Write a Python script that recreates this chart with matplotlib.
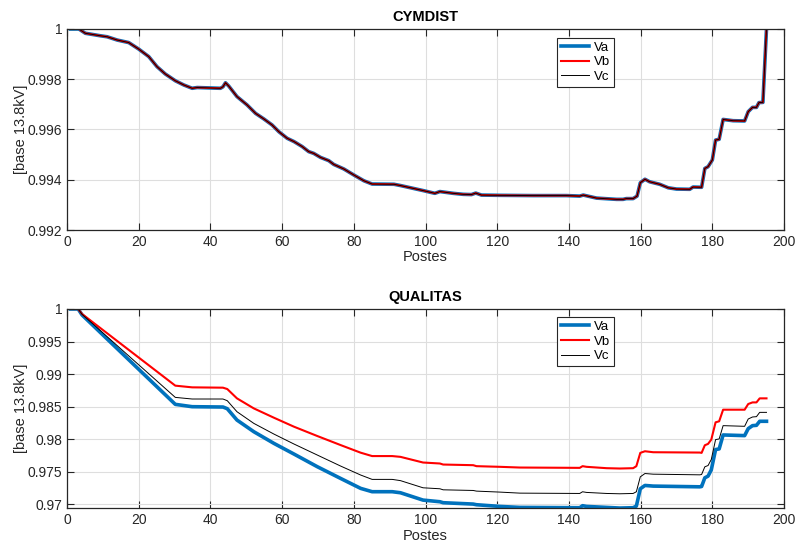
"""CYMDIST vs QUALITAS phase voltages along the feeder (p.u., base 13.8 kV)."""

import matplotlib
matplotlib.use("Agg")
import matplotlib.pyplot as plt
import matplotlib.ticker as mticker
import numpy as np

# --- CYMDIST: the three phases overlap at this scale ---
CYM_X = [1, 3.3, 5.1, 9.3, 11.2, 14, 17.2, 20, 22.8, 25.1,
         27.4, 30.2, 32.6, 34.9, 36.3, 42.8, 43.5, 44.2, 45.1, 47.4,
         50.2, 52.6, 54.9, 57.2, 59.1, 61.4, 63.3, 65.6, 67.4, 68.8,
         70.7, 73, 74.4, 77.2, 80, 82.8, 85.1, 91.2, 93, 99.3,
         102.6, 104, 107.7, 110.5, 112.8, 114, 115.6, 120.7, 130, 139.3,
         143, 144, 147.7, 153.3, 155.1, 156, 157.9, 159, 159.9, 161.2,
         162.5, 165.3, 167.7, 170, 173.7, 174.6, 177, 177.9, 178.8, 180,
         180.9, 181.9, 183, 185.8, 189, 190, 191.2, 192.3, 193, 194.1,
         195.2]
CYM_VA = [1.0, 1.0, 0.99983, 0.99973, 0.99969, 0.99956, 0.99946, 0.99920, 0.99890, 0.99850,
          0.99821, 0.99794, 0.99777, 0.99764, 0.99767, 0.99764, 0.99770, 0.99786, 0.99773, 0.99731,
          0.99698, 0.99664, 0.99642, 0.99618, 0.99591, 0.99565, 0.99552, 0.99532, 0.99512, 0.99505,
          0.99489, 0.99476, 0.99461, 0.99443, 0.99419, 0.99396, 0.99383, 0.99382, 0.99377, 0.99357,
          0.99346, 0.99353, 0.99346, 0.99342, 0.99341, 0.99347, 0.99339, 0.99338, 0.99337, 0.99337,
          0.99335, 0.99339, 0.99327, 0.99322, 0.99322, 0.99325, 0.99325, 0.99335, 0.99388, 0.99402,
          0.99392, 0.99382, 0.99368, 0.99363, 0.99362, 0.99371, 0.99370, 0.99445, 0.99452, 0.99479,
          0.99558, 0.99561, 0.99640, 0.99635, 0.99634, 0.99671, 0.99688, 0.99688, 0.99707, 0.99708,
          1.0003]
CYM_VB = list(CYM_VA)
CYM_VC = list(CYM_VA)

# --- QUALITAS ---
QUAL_X = [1, 3.1, 4.2, 30.2, 34.9, 43.5, 44.7, 47.4, 52.1, 57.7,
          63.3, 69.8, 76.3, 81.9, 85.1, 90.7, 93, 99.3, 104, 104.9,
          113.3, 114.2, 120.7, 126.3, 143, 143.8, 144.9, 150.5, 154.2, 157.9,
          158.8, 159.9, 161.2, 163.5, 176.5, 177, 177.9, 178.8, 179.7, 180.9,
          181.9, 183, 189, 190, 191.2, 192.3, 193.2, 195.1]
QUAL_VA = [1.0, 1.0, 0.99908, 0.98536, 0.98500, 0.98495, 0.98469, 0.98295, 0.98116, 0.97937,
           0.97773, 0.97579, 0.97399, 0.97246, 0.97195, 0.97195, 0.97179, 0.97066, 0.97041, 0.97026,
           0.97005, 0.96995, 0.96969, 0.96954, 0.96949, 0.96980, 0.96969, 0.96954, 0.96944, 0.96949,
           0.96974, 0.97240, 0.97291, 0.97281, 0.97270, 0.97275, 0.97408, 0.97434, 0.97530, 0.97842,
           0.97852, 0.98066, 0.98056, 0.98163, 0.98209, 0.98214, 0.98276, 0.98276]
QUAL_VB = [1.0, 1.0, 0.99923, 0.98823, 0.98797, 0.98792, 0.98771, 0.98628, 0.98474, 0.98331,
           0.98193, 0.98050, 0.97911, 0.97794, 0.97742, 0.97742, 0.97730, 0.97643, 0.97628, 0.97612,
           0.97602, 0.97587, 0.97577, 0.97566, 0.97561, 0.97587, 0.97577, 0.97556, 0.97551, 0.97556,
           0.97587, 0.97791, 0.97816, 0.97801, 0.97796, 0.97791, 0.97908, 0.97929, 0.97995, 0.98260,
           0.98276, 0.98454, 0.98454, 0.98541, 0.98566, 0.98566, 0.98628, 0.98628]
QUAL_VC = [1.0, 1.0, 0.99918, 0.98643, 0.98618, 0.98618, 0.98592, 0.98423, 0.98244, 0.98080,
           0.97927, 0.97758, 0.97589, 0.97451, 0.97384, 0.97384, 0.97365, 0.97255, 0.97240, 0.97224,
           0.97214, 0.97204, 0.97189, 0.97173, 0.97168, 0.97194, 0.97184, 0.97168, 0.97163, 0.97168,
           0.97194, 0.97423, 0.97474, 0.97464, 0.97454, 0.97459, 0.97577, 0.97597, 0.97689, 0.97995,
           0.98005, 0.98209, 0.98199, 0.98311, 0.98342, 0.98347, 0.98413, 0.98413]

PHASES = ["Va", "Vb", "Vc"]
X_TICKS = np.arange(0, 201, 20)
CYM_YTICKS = [0.992, 0.994, 0.996, 0.998, 1.0]
QUAL_YTICKS = [0.97, 0.975, 0.98, 0.985, 0.99, 0.995, 1.0]

AX_COLOR = "#262626"
GRID_COLOR = "#dedede"
STYLES = [
    dict(color="#0072BD", linewidth=2.6),
    dict(color="#FF0000", linewidth=1.5),
    dict(color="#000000", linewidth=0.7),
]

plt.rcParams.update({
    "font.family": ["Liberation Sans", "DejaVu Sans"],
    "font.size": 10,
})


def style_axes(ax, title, yticks, ylim):
    ax.set_xlim(0, 200)
    ax.set_ylim(*ylim)
    ax.set_xticks(X_TICKS)
    ax.set_yticks(yticks)
    ax.yaxis.set_major_formatter(mticker.FuncFormatter(lambda v, _: f"{v:g}"))
    ax.grid(True, color=GRID_COLOR, linewidth=0.8)
    ax.set_axisbelow(True)
    ax.tick_params(direction="in", top=True, right=True, length=5,
                   colors=AX_COLOR, labelsize=10, width=0.8)
    for s in ax.spines.values():
        s.set_color(AX_COLOR)
        s.set_linewidth(0.9)
    ax.set_title(title, fontsize=10.5, fontweight="bold", color="black", pad=6)
    ax.set_xlabel("Postes", color=AX_COLOR, fontsize=10.5, labelpad=1)
    ax.set_ylabel("[base 13.8kV]", color=AX_COLOR, fontsize=10.5, labelpad=0)


def draw_legend(ax, y_top):
    leg = ax.legend(PHASES, loc="upper left", bbox_to_anchor=(0.684, y_top),
                    fancybox=False, framealpha=1, edgecolor=AX_COLOR,
                    fontsize=9.5, handlelength=2.1, handletextpad=0.35,
                    labelspacing=0.18, borderpad=0.3, borderaxespad=0)
    leg.get_frame().set_linewidth(0.8)


fig = plt.figure(figsize=(7.96, 5.5), dpi=100)
ax_top = fig.add_axes([0.0842, 0.5818, 0.9008, 0.3655])
ax_bot = fig.add_axes([0.0842, 0.0758, 0.9008, 0.3624])

for ys, st in zip([CYM_VA, CYM_VB, CYM_VC], STYLES):
    ax_top.plot(CYM_X, ys, **st)
style_axes(ax_top, "CYMDIST", CYM_YTICKS, (0.992, 1.0))
draw_legend(ax_top, 0.957)

for ys, st in zip([QUAL_VA, QUAL_VB, QUAL_VC], STYLES):
    ax_bot.plot(QUAL_X, ys, **st)
style_axes(ax_bot, "QUALITAS", QUAL_YTICKS, (0.9694, 1.0))
draw_legend(ax_bot, 0.961)

fig.savefig("out.png", dpi=100)
plt.close(fig)
